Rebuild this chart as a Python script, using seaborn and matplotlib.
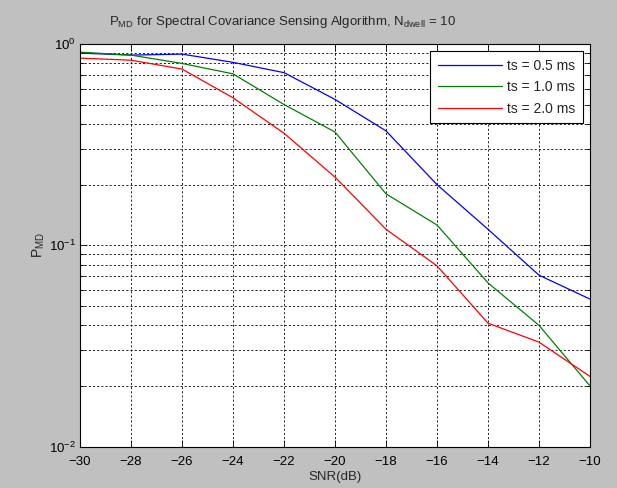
import numpy as np
import pandas as pd
import matplotlib
matplotlib.use('Agg')
import matplotlib.pyplot as plt
import seaborn as sns
from matplotlib.ticker import LogLocator, MultipleLocator

# values
snr = [-30, -28, -26, -24, -22, -20, -18, -16, -14, -12, -10]
pmd_05 = [0.90, 0.88, 0.89, 0.81, 0.72, 0.53, 0.37, 0.20, 0.12, 0.071, 0.054]
pmd_10 = [0.91, 0.88, 0.80, 0.71, 0.50, 0.365, 0.18, 0.126, 0.065, 0.040, 0.020]
pmd_20 = [0.85, 0.83, 0.75, 0.54, 0.36, 0.218, 0.12, 0.079, 0.041, 0.033, 0.0223]
series_names = ['ts = 0.5 ms', 'ts = 1.0 ms', 'ts = 2.0 ms']
series_colors = ['#0000ff', '#008000', '#ff0000']

df = pd.concat([
    pd.DataFrame({'snr': snr, 'pmd': vals, 'ts': name})
    for name, vals in zip(series_names, [pmd_05, pmd_10, pmd_20])
])

sns.set_style('white')
plt.rcParams['font.family'] = ['Liberation Sans', 'DejaVu Sans']
plt.rcParams['mathtext.fontset'] = 'custom'
plt.rcParams['mathtext.rm'] = 'Liberation Sans'
plt.rcParams['mathtext.it'] = 'Liberation Sans'
fs = 9.5

fig = plt.figure(figsize=(6.17, 4.88), dpi=100, facecolor='#c0c0c0')
ax = fig.add_axes([0.1297, 0.085, 0.8265, 0.825])
ax.set_facecolor('white')

sns.lineplot(data=df, x='snr', y='pmd', hue='ts', palette=series_colors,
             linewidth=0.9, ax=ax)

ax.set_yscale('log')
ax.set_xlim(-30, -10)
ax.set_ylim(1e-2, 1)
ax.xaxis.set_major_locator(MultipleLocator(2))
ax.yaxis.set_major_locator(LogLocator(base=10, numticks=5))
ax.yaxis.set_minor_locator(LogLocator(base=10, subs=np.arange(2, 10), numticks=20))

grid_kw = dict(color='black', linestyle=(0, (2.5, 2.5)), linewidth=0.6)
ax.grid(True, which='major', axis='both', **grid_kw)
ax.grid(True, which='minor', axis='y', **grid_kw)

ax.tick_params(which='both', direction='in', top=True, right=True,
               bottom=True, left=True, colors='black', labelsize=fs)
ax.tick_params(which='major', length=5, width=0.6, pad=3)
ax.tick_params(which='minor', length=3, width=0.6)
ax.tick_params(axis='x', which='major', pad=7)
for s in ax.spines.values():
    s.set_color('black')
    s.set_linewidth(0.8)

ax.set_xlabel('SNR(dB)', labelpad=2, fontsize=fs)
ax.set_ylabel(r'P$_{\rm MD}$', labelpad=1, fontsize=fs + 0.5)
fig.text(0.457, 0.955,
         r'P$_{\rm MD}$ for Spectral Covariance Sensing Algorithm, N$_{\rm dwell}$ = 10',
         fontsize=fs, ha='center', va='center')

leg = ax.legend(loc='upper right', frameon=True, fancybox=False, fontsize=fs + 0.5,
                borderaxespad=0.5, handlelength=4.6, handletextpad=0.4,
                labelspacing=0.55, borderpad=0.55, edgecolor='black')
leg.get_frame().set_linewidth(0.8)
leg.get_frame().set_alpha(1)

fig.savefig('out.png', dpi=100, facecolor='#c0c0c0')
